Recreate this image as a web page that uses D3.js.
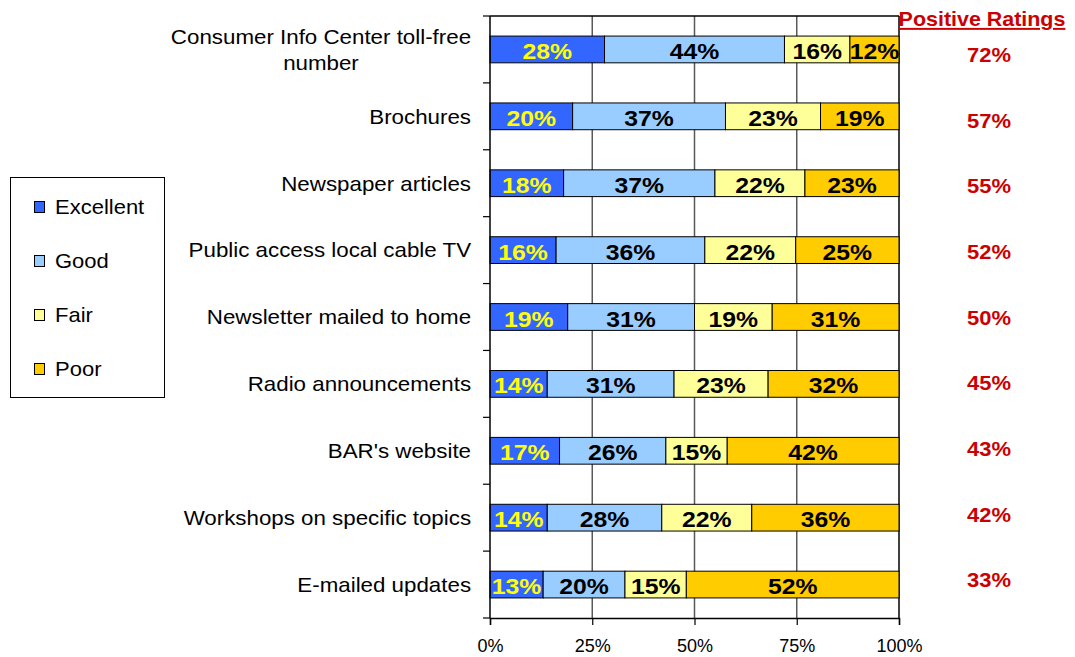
<!DOCTYPE html>
<html>
<head>
<meta charset="utf-8">
<script src="https://cdn.jsdelivr.net/npm/d3@7"></script>
<style>
  html, body { margin: 0; padding: 0; background: #fff; }
  svg { display: block; }
  text { font-family: "Liberation Sans", Arial, Helvetica, sans-serif; }
</style>
</head>
<body>
<svg id="chart" width="1075" height="657"></svg>
<script>
// Survey sources, top to bottom
const categories = [
  ["Consumer Info Center toll-free", "number"],
  ["Brochures"],
  ["Newspaper articles"],
  ["Public access local cable TV"],
  ["Newsletter mailed to home"],
  ["Radio announcements"],
  ["BAR's website"],
  ["Workshops on specific topics"],
  ["E-mailed updates"]
];
const seriesNames = ["Excellent", "Good", "Fair", "Poor"];
const excellent = [28, 20, 18, 16, 19, 14, 17, 14, 13];
const good      = [44, 37, 37, 36, 31, 31, 26, 28, 20];
const fair      = [16, 23, 22, 22, 19, 23, 15, 22, 15];
const poor      = [12, 19, 23, 25, 31, 32, 42, 36, 52];
const positive  = [72, 57, 55, 52, 50, 45, 43, 42, 33];
const xTicks    = [0, 25, 50, 75, 100];

const colors     = ["#3366FF", "#99CCFF", "#FFFF99", "#FFCC00"];
const labelColor = ["#FFFF00", "#000000", "#000000", "#000000"];
const red = "#CC0000";
const SX = 1.1; // horizontal stretch of the lettering

const svg = d3.select("#chart");
const plot = { left: 490, right: 899, top: 16, bottom: 618 };

const x = d3.scaleLinear().domain([0, 100]).range([plot.left, plot.right]);
const y = d3.scaleBand().domain(d3.range(categories.length))
  .range([plot.top, plot.bottom]).paddingInner(0.6).paddingOuter(0.3);
const band = (plot.bottom - plot.top) / categories.length;

// helper: text placed at (tx, ty) with a horizontal stretch
function stretched(sel, tx, ty) {
  return sel.attr("transform", (d, i) =>
    `translate(${typeof tx === "function" ? tx(d, i) : tx},${typeof ty === "function" ? ty(d, i) : ty}) scale(${SX},1)`);
}

// vertical gridlines
svg.append("g").selectAll("line").data([25, 50, 75]).join("line")
  .attr("x1", d => x(d)).attr("x2", d => x(d))
  .attr("y1", plot.top).attr("y2", plot.bottom)
  .attr("stroke", "#5a5a5a").attr("stroke-width", 1.5);

// plot frame: top and right edges
svg.append("line").attr("x1", plot.left).attr("x2", plot.right)
  .attr("y1", plot.top).attr("y2", plot.top).attr("stroke", "#000").attr("stroke-width", 1.5);
svg.append("line").attr("x1", plot.right).attr("x2", plot.right)
  .attr("y1", plot.top).attr("y2", plot.bottom).attr("stroke", "#000").attr("stroke-width", 1.5);

// 100% stacked data: each row is scaled to its own total
const segs = [];
categories.forEach((c, i) => {
  const vals = [excellent[i], good[i], fair[i], poor[i]];
  const total = d3.sum(vals);
  let acc = 0;
  vals.forEach((v, k) => {
    segs.push({ row: i, k, x0: acc / total * 100, x1: (acc + v) / total * 100, v });
    acc += v;
  });
});

// bars
svg.append("g").selectAll("rect").data(segs).join("rect")
  .attr("x", d => x(d.x0))
  .attr("y", d => y(d.row))
  .attr("width", d => x(d.x1) - x(d.x0))
  .attr("height", y.bandwidth())
  .attr("fill", d => colors[d.k])
  .attr("stroke", "#000").attr("stroke-width", 1);

// value labels inside segments
const barFs = 22.5;
svg.append("g").selectAll("text").data(segs).join("text")
  .call(stretched, d => x((d.x0 + d.x1) / 2), d => y(d.row) + y.bandwidth() / 2 + barFs * 0.36 + 1.5)
  .attr("text-anchor", "middle")
  .attr("font-size", barFs).attr("font-weight", "bold")
  .attr("fill", d => labelColor[d.k])
  .text(d => d.v + "%");

// left axis line with ticks at band edges
svg.append("line").attr("x1", plot.left).attr("x2", plot.left)
  .attr("y1", plot.top).attr("y2", plot.bottom).attr("stroke", "#000").attr("stroke-width", 1.5);
svg.append("g").selectAll("line").data(d3.range(categories.length + 1)).join("line")
  .attr("x1", plot.left - 7).attr("x2", plot.left)
  .attr("y1", d => plot.top + d * band).attr("y2", d => plot.top + d * band)
  .attr("stroke", "#000").attr("stroke-width", 1.2);

// bottom axis
const xAxis = d3.axisBottom(x).tickValues(xTicks).tickFormat(d => d + "%").tickSize(7).tickPadding(14);
const gx = svg.append("g").attr("transform", `translate(0,${plot.bottom})`).call(xAxis);
gx.select(".domain").attr("stroke", "#000").attr("stroke-width", 1.5);
gx.selectAll(".tick line").attr("stroke", "#000").attr("stroke-width", 1.2);
gx.selectAll(".tick text").attr("font-size", 18).attr("fill", "#000")
  .attr("font-family", "'Liberation Sans', Arial, sans-serif");

// category labels: each block centred on its widest line, right edge at 471
const catFs = 20.3, lineH = 26, labelRight = 471;
const catG = svg.append("g");
categories.forEach((lines, i) => {
  const cy = plot.top + (i + 0.5) * band;
  const g = catG.append("g");
  const texts = lines.map((t, j) => g.append("text")
    .attr("font-size", catFs).attr("fill", "#000")
    .attr("text-anchor", "middle").text(t));
  const widest = d3.max(texts, t => t.node().getComputedTextLength()) * SX;
  const cx = labelRight - widest / 2;
  texts.forEach((t, j) => {
    const ly = cy + (j - (lines.length - 1) / 2) * lineH + catFs * 0.36;
    t.attr("transform", `translate(${cx},${ly}) scale(${SX},1)`);
  });
});

// positive ratings column
stretched(svg.append("text"), 982, 26)
  .attr("text-anchor", "middle").attr("font-size", 19.5).attr("font-weight", "bold")
  .attr("fill", red).attr("text-decoration", "underline")
  .text("Positive Ratings");
const posY = d3.scalePoint().domain(d3.range(positive.length)).range([55, 580]);
svg.append("g").selectAll("text").data(positive).join("text")
  .call(stretched, 989, (d, i) => posY(i) + 20 * 0.36)
  .attr("text-anchor", "middle").attr("font-size", 20).attr("font-weight", "bold")
  .attr("fill", red)
  .text(d => d + "%");

// legend
const legend = svg.append("g");
legend.append("rect").attr("x", 10.5).attr("y", 177.5).attr("width", 154).attr("height", 220)
  .attr("fill", "#fff").attr("stroke", "#000").attr("stroke-width", 1);
const legendY = d3.scalePoint().domain(seriesNames).range([207, 369]);
const items = legend.selectAll("g.item").data(seriesNames).join("g").attr("class", "item");
items.append("rect")
  .attr("x", 34.5).attr("y", d => legendY(d) - 5.5).attr("width", 10).attr("height", 11)
  .attr("fill", (d, i) => colors[i]).attr("stroke", "#000").attr("stroke-width", 1);
items.append("text")
  .call(stretched, 55, d => legendY(d) + 20 * 0.36)
  .attr("font-size", 20).attr("fill", "#000")
  .text(d => d);
</script>
</body>
</html>
